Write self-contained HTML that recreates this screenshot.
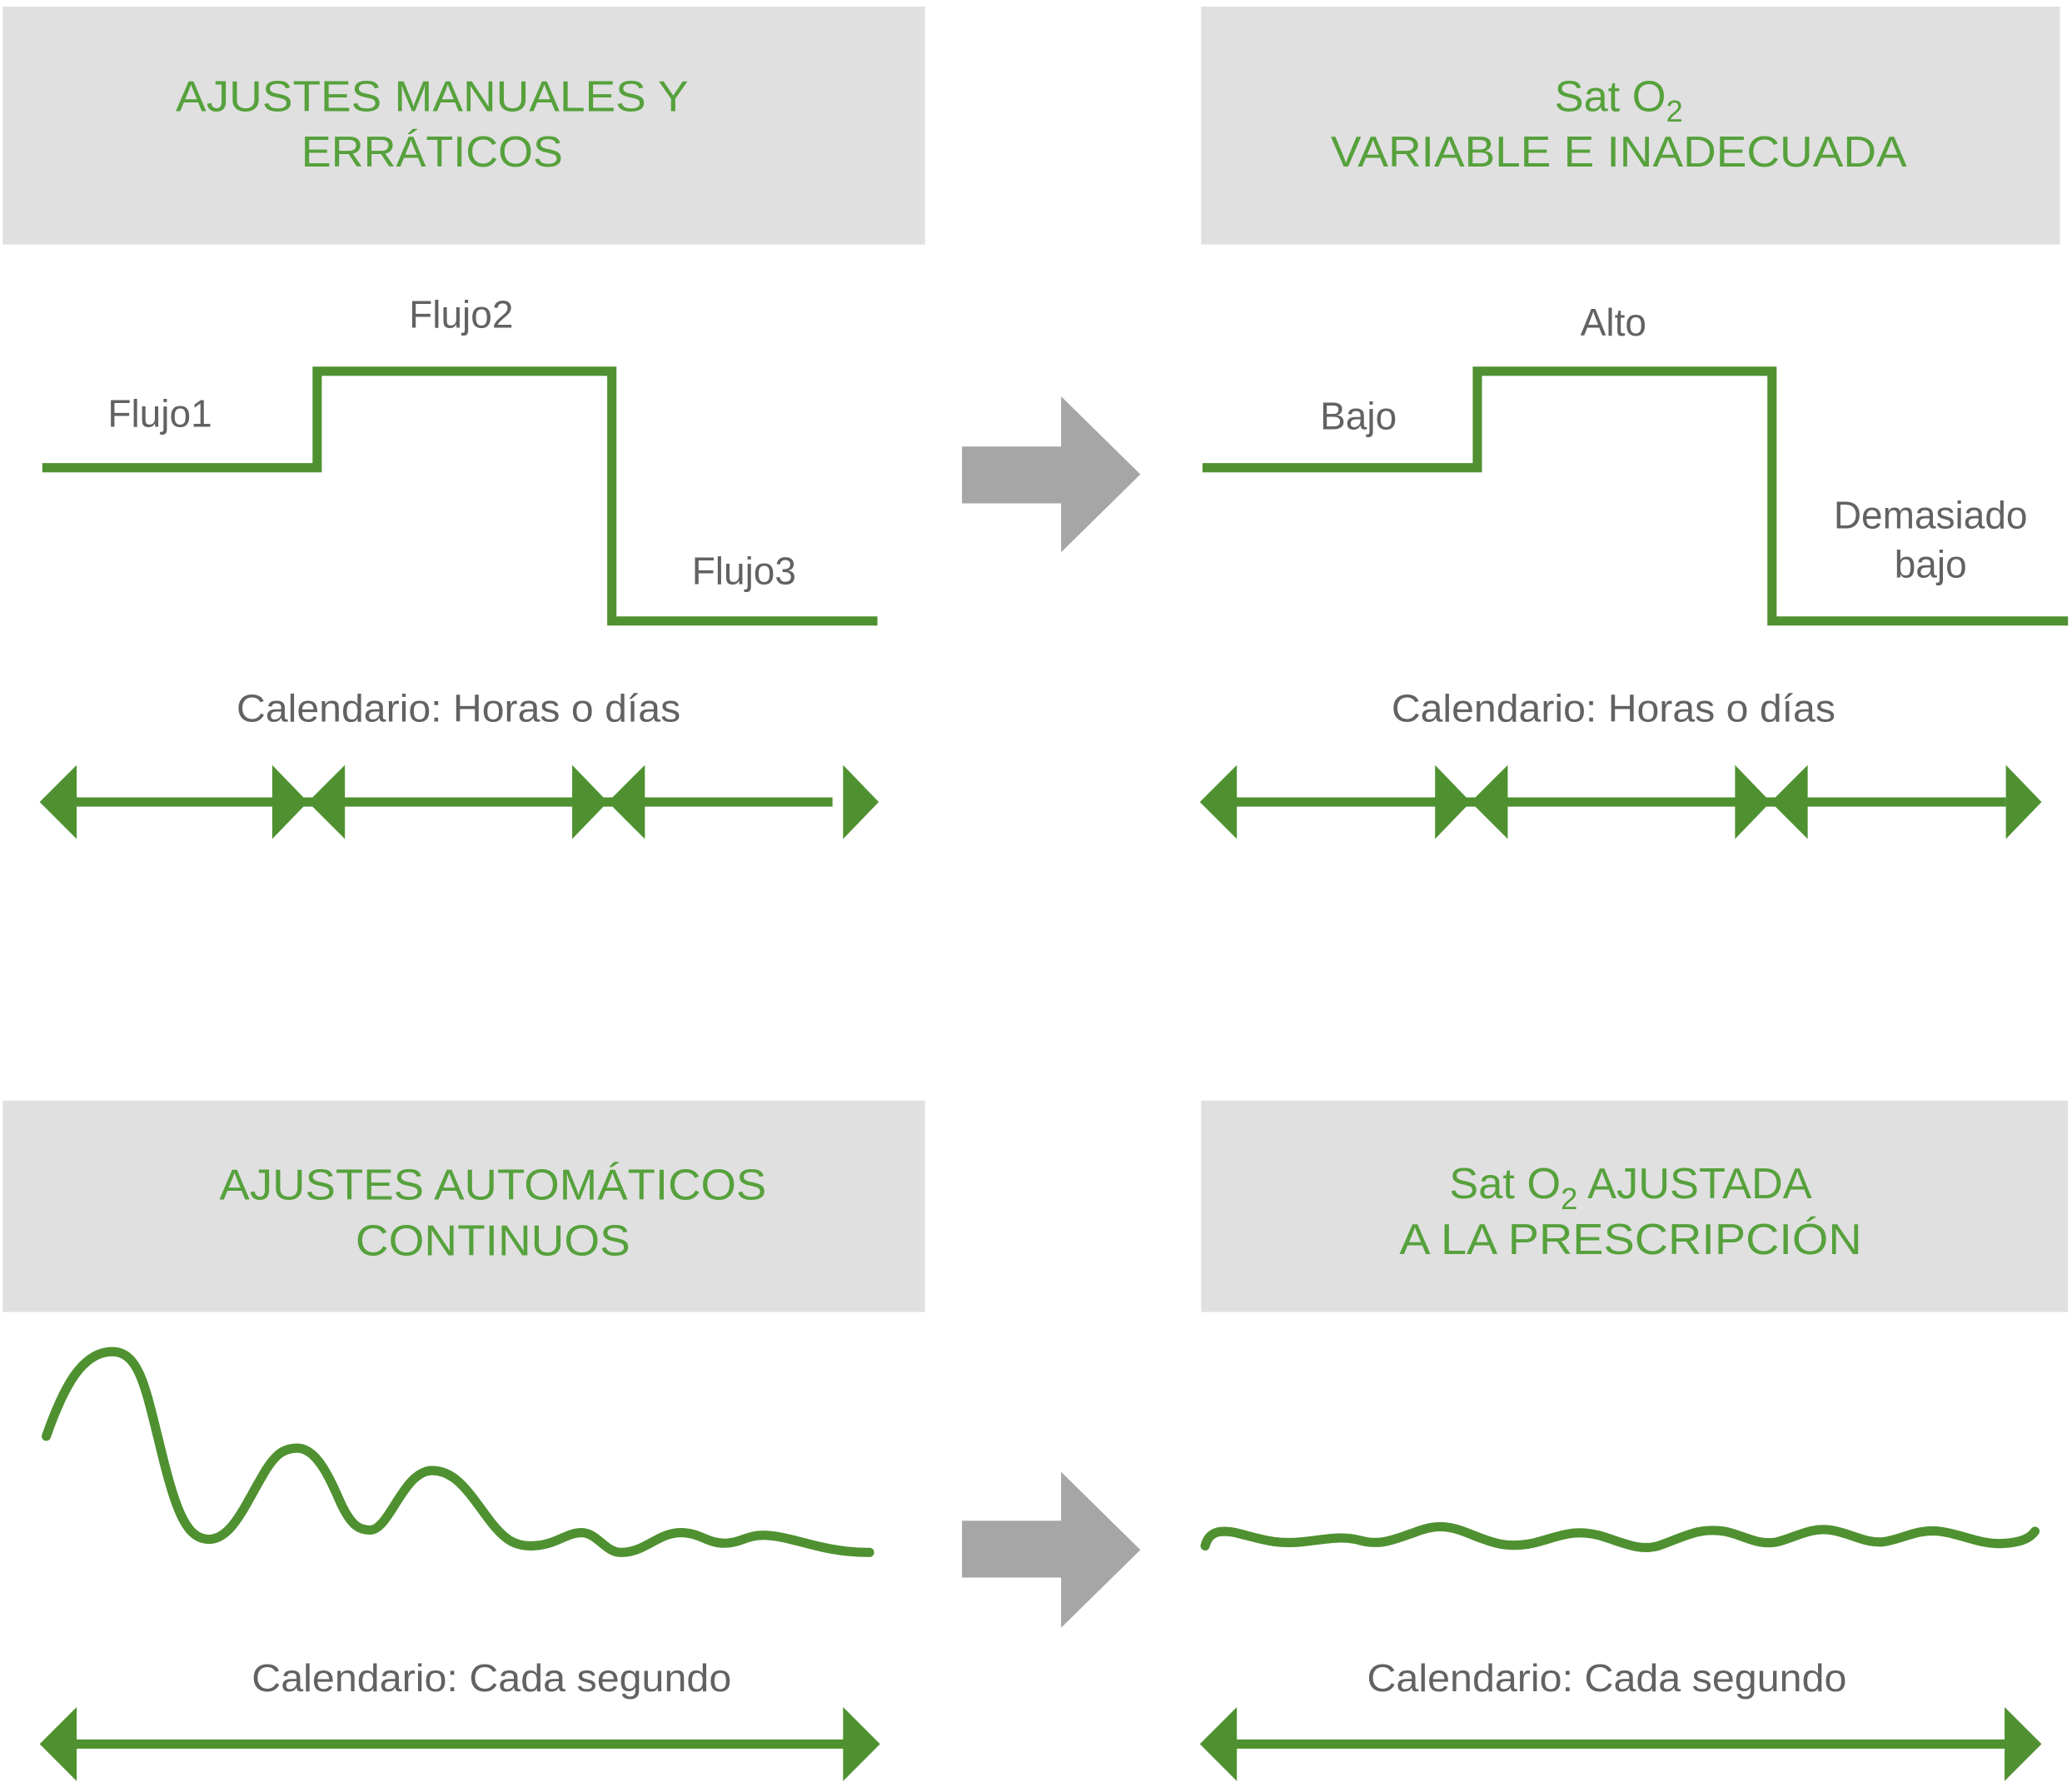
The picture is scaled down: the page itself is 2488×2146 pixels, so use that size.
<!DOCTYPE html>
<html><head><meta charset="utf-8"><style>
html,body{margin:0;padding:0;background:#fff;}
svg{display:block;}
.t{font-family:"Liberation Sans",sans-serif;fill:#56a13c;font-size:33px;text-anchor:middle;}
.l{font-family:"Liberation Sans",sans-serif;fill:#626262;font-size:29px;text-anchor:middle;}
.g{fill:none;stroke:#4f9131;stroke-width:7;}
.w{fill:none;stroke:#4f9131;stroke-width:7;stroke-linecap:round;stroke-linejoin:round;}
.a{fill:#4f9131;}
</style></head><body>
<svg width="2488" height="2146" viewBox="0 0 1568 1352.5" xmlns="http://www.w3.org/2000/svg">
<rect width="1568" height="1353" fill="#fff"/>
<rect x="2" y="5" width="698" height="180" fill="#e0e0e0"/>
<rect x="909" y="5" width="650" height="180" fill="#e0e0e0"/>
<rect x="2" y="833" width="698" height="160" fill="#e0e0e0"/>
<rect x="909" y="833" width="656" height="160" fill="#e0e0e0"/>

<text class="t" x="327" y="84" textLength="388" lengthAdjust="spacingAndGlyphs">AJUSTES MANUALES Y</text>
<text class="t" x="327" y="126" textLength="198" lengthAdjust="spacingAndGlyphs">ERRÁTICOS</text>
<text class="t" x="1225" y="84">Sat O<tspan font-size="23" dy="8">2</tspan></text>
<text class="t" x="1225" y="126" textLength="436" lengthAdjust="spacingAndGlyphs">VARIABLE E INADECUADA</text>
<text class="t" x="373" y="908" textLength="414" lengthAdjust="spacingAndGlyphs">AJUSTES AUTOMÁTICOS</text>
<text class="t" x="373" y="950" textLength="208" lengthAdjust="spacingAndGlyphs">CONTINUOS</text>
<text class="t" x="1234" y="907">Sat O<tspan font-size="23" dy="8">2</tspan><tspan dy="-8"> AJUSTADA</tspan></text>
<text class="t" x="1234" y="949" textLength="350" lengthAdjust="spacingAndGlyphs">A LA PRESCRIPCIÓN</text>

<path class="g" d="M32 354 H240 V281 H463 V470 H664"/>
<path class="g" d="M910 354 H1118 V281 H1341 V470 H1565"/>
<text class="l" x="349" y="248">Flujo2</text>
<text class="l" x="121" y="323">Flujo1</text>
<text class="l" x="563" y="442">Flujo3</text>
<text class="l" x="1221" y="254">Alto</text>
<text class="l" x="1028" y="325">Bajo</text>
<text class="l" x="1461" y="400">Demasiado</text>
<text class="l" x="1461" y="437">bajo</text>
<text class="l" x="347" y="546" textLength="336" lengthAdjust="spacingAndGlyphs">Calendario: Horas o días</text>
<text class="l" x="1221" y="546" textLength="336" lengthAdjust="spacingAndGlyphs">Calendario: Horas o días</text>
<text class="l" x="372" y="1280" textLength="363" lengthAdjust="spacingAndGlyphs">Calendario: Cada segundo</text>
<text class="l" x="1216" y="1280" textLength="363" lengthAdjust="spacingAndGlyphs">Calendario: Cada segundo</text>

<!-- double arrows -->
<g class="a">
<!-- top left -->
<rect x="50" y="603.5" width="580" height="7"/>
<polygon points="30,607 58,579 58,635"/>
<polygon points="233,607 206,579 206,635"/>
<polygon points="233,607 261,579 261,635"/>
<polygon points="460,607 433,579 433,635"/>
<polygon points="460,607 488,579 488,635"/>
<polygon points="665,607 638,579 638,635"/>
<!-- top right -->
<rect x="928" y="603.5" width="590" height="7"/>
<polygon points="908,607 936,579 936,635"/>
<polygon points="1113,607 1086,579 1086,635"/>
<polygon points="1113,607 1141,579 1141,635"/>
<polygon points="1340,607 1313,579 1313,635"/>
<polygon points="1340,607 1368,579 1368,635"/>
<polygon points="1545,607 1518,579 1518,635"/>
<!-- bottom -->
<rect x="50" y="1316.5" width="590" height="7"/>
<polygon points="30,1320 58,1292 58,1348"/>
<polygon points="666,1320 638,1292 638,1348"/>
<rect x="928" y="1316.5" width="595" height="7"/>
<polygon points="908,1320 936,1292 936,1348"/>
<polygon points="1545,1320 1517,1292 1517,1348"/>
</g>

<!-- gray arrows -->
<polygon fill="#a6a6a6" points="728,338 803,338 803,300 863,359 803,418 803,381 728,381"/>
<polygon fill="#a6a6a6" points="728,1151 803,1151 803,1114 863,1173 803,1232 803,1194 728,1194"/>

<!-- damped wave -->
<path class="w" d="M35 1087 C48 1050 62 1023 85 1023 C105 1023 110 1050 120 1090 C132 1140 140 1165 158 1165 C175 1165 185 1140 198 1118 C208 1100 215 1096 225 1096 C240 1096 250 1120 258 1138 C266 1155 272 1158 280 1158 C295 1158 305 1113 327 1113 C345 1113 355 1130 370 1150 C382 1166 390 1170 402 1170 C420 1170 428 1160 440 1160 C452 1160 458 1175 470 1175 C488 1175 498 1160 515 1160 C530 1160 535 1168 548 1168 C560 1168 565 1162 577 1162 C600 1162 620 1175 658 1175"/>
<!-- small wave -->
<path class="w" d="M912 1170 C915 1158 925 1158 935 1160 C955 1165 965 1169 985 1167 C1005 1165 1015 1162 1030 1166 C1045 1170 1055 1165 1070 1160 C1085 1154 1095 1154 1110 1160 C1130 1168 1140 1172 1160 1168 C1180 1163 1190 1157 1210 1162 C1230 1168 1240 1174 1255 1170 C1275 1163 1285 1156 1305 1159 C1320 1162 1330 1170 1345 1167 C1360 1163 1370 1156 1385 1158 C1400 1160 1410 1168 1425 1167 C1440 1165 1450 1157 1468 1159 C1485 1161 1500 1170 1518 1168 C1532 1167 1537 1163 1540 1159"/>
</svg>
</body></html>
